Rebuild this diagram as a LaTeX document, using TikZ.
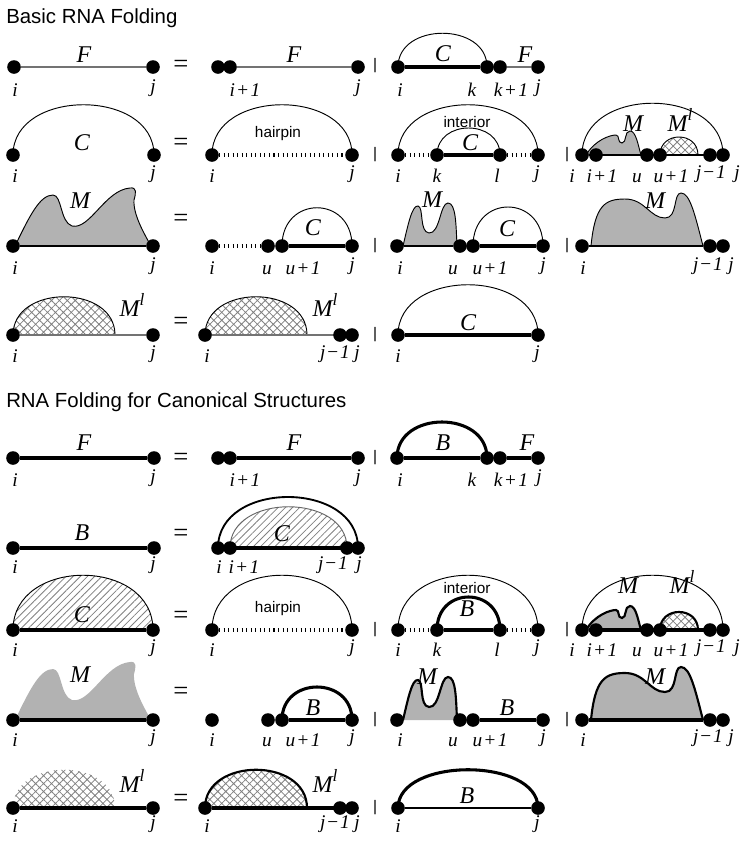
\documentclass[tikz,border=0pt]{standalone}
\usepackage{fontspec}
\setmainfont{Liberation Serif}
\newfontfamily\headfont{Liberation Sans}
\usetikzlibrary{patterns.meta,backgrounds}

\newcommand\ifont{\fontsize{14.5}{16}\selectfont\itshape}
\newcommand\Ifont{\fontsize{18}{20}\selectfont\itshape}
\newcommand\plusone[1]{#1\hspace{.12em}\textup{+}\hspace{.12em}1}
\newcommand\minusone[1]{#1\hspace{.1em}\textup{−}\hspace{.1em}1}
\newcommand\Ml{M\raisebox{.42em}{\fontsize{13}{14}\selectfont l}}

% multiloop outlines, relative to the left base
\newcommand\waveM{(2,0) .. controls (17,-31) and (27,-51) .. (40,-51) .. controls (49,-51) and (47,-24) .. (59,-20) .. controls (77,-16) and (92,-56) .. (117,-58) .. controls (124,-59) and (123,-53) .. (121,-46) .. controls (120,-31) and (132,-11) .. (138,0)}
\newcommand\twinM{(6,0) .. controls (11,-21) and (15,-41) .. (21,-40) .. controls (27,-39) and (22,-14) .. (32,-13) .. controls (43,-12) and (43,-43) .. (51,-43) .. controls (59,-43) and (59,-21) .. (60,0)}
\newcommand\humpM{(9,0) .. controls (13,-41) and (23,-47) .. (43,-47) .. controls (63,-47) and (68,-28) .. (83,-28) .. controls (96,-28) and (91,-53) .. (99,-53) .. controls (108,-53) and (113,-31) .. (121,0)}
\newcommand\smallM{(4,0) .. controls (13,-15) and (28,-20) .. (34,-20) .. controls (38,-20) and (35,-12) .. (40,-12) .. controls (45,-12) and (42,-24) .. (48,-24) .. controls (54,-24) and (56,-10) .. (59,0)}

\tikzset{
  nuc/.style={circle, fill=black, inner sep=0pt, minimum size=10.2pt},
  idx/.style={font=\ifont, anchor=south, inner sep=0pt},
  sym/.style={font=\Ifont, anchor=base, inner sep=0pt},
  eqs/.style={font=\fontsize{20}{22}\selectfont},
  alt/.style={font=\headfont\fontsize{11.5}{13}\selectfont},
  loopname/.style={font=\headfont\fontsize{11.5}{13}\selectfont, anchor=base, inner sep=0pt},
  head/.style={font=\headfont\fontsize{15.3}{18}\selectfont, anchor=base west, inner sep=0pt},
  fline/.style={line width=1.1pt, black!55},
  tline/.style={line width=0.9pt},
  bline/.style={line width=2.4pt},
  mline/.style={line width=1.6pt},
  carc/.style={line width=0.7pt},
  barc/.style={line width=2.3pt},
  loopline/.style={line width=2.4pt, dash pattern=on 0.8pt off 2.6pt},
  mfill/.style={fill=black!30},
  mlhatch/.style={pattern={Hatch[angle=45,distance=4.2pt,line width=0.6pt]}, pattern color=black!50},
  chatch/.style={pattern={Lines[angle=45,distance=3.8pt,line width=0.6pt]}, pattern color=black!50},
}

\begin{document}
\begin{tikzpicture}[x=0.75pt, y=-0.75pt]
\useasboundingbox (0,0) rectangle (740,843);

\node[head] (basic) at (6,23) {Basic RNA Folding};
\node[head] (canon) at (6,407) {RNA Folding for Canonical Structures};

% F = ...
\node[nuc] (1ai) at (14,67) {};
\node[nuc] (1aj) at (153,67) {};
\node[sym] (1aF) at (84,62) {F};
\node[idx] (1ali) at (15,97) {i};
\node[idx] (1alj) at (153,97) {j};
\node[eqs] (1eq) at (181,66) {=};
\node[nuc] (1bi) at (218,67) {};
\node[nuc] (1bi1) at (230,67) {};
\node[nuc] (1bj) at (358,67) {};
\node[sym] (1bF) at (294,62) {F};
\node[idx] (1bli1) at (245,97) {\plusone{i}};
\node[idx] (1blj) at (358,97) {j};
\node[alt] (1or) at (375,66) {|};
\node[nuc] (1ci) at (398,67) {};
\node[nuc] (1ck) at (487,67) {};
\node[nuc] (1ck1) at (500,67) {};
\node[nuc] (1cj) at (538,67) {};
\node[sym] (1cC) at (443,61) {C};
\node[sym] (1cF) at (525,62) {F};
\node[idx] (1cli) at (400,97) {i};
\node[idx] (1clk) at (472,97) {k};
\node[idx] (1clk1) at (511,97) {\plusone{k}};
\node[idx] (1clj) at (538,97) {j};

% C = ...
\node[nuc] (2ai) at (13,155) {};
\node[nuc] (2aj) at (154,155) {};
\node[sym] (2aC) at (82,150) {C};
\node[idx] (2ali) at (15,183) {i};
\node[idx] (2alj) at (153,183) {j};
\node[eqs] (2eq) at (181,144) {=};
\node[nuc] (2bi) at (212,155) {};
\node[nuc] (2bj) at (352,155) {};
\node[loopname] (2bh) at (278,137) {hairpin};
\node[idx] (2bli) at (212,183) {i};
\node[idx] (2blj) at (352,183) {j};
\node[alt] (2or) at (375,155) {|};
\node[nuc] (2ci) at (398,155) {};
\node[nuc] (2ck) at (437,155) {};
\node[nuc] (2cl) at (500,155) {};
\node[nuc] (2cj) at (538,155) {};
\node[loopname] (2cint) at (467,127) {interior};
\node[sym] (2cC) at (470,150) {C};
\node[idx] (2cli) at (398,183) {i};
\node[idx] (2clk) at (437,183) {k};
\node[idx] (2cll) at (497,183) {l};
\node[idx] (2clj) at (537,183) {j};
\node[alt] (2or2) at (567,155) {|};
\node[nuc] (2di) at (582,155) {};
\node[nuc] (2di1) at (596,155) {};
\node[nuc] (2du) at (647,155) {};
\node[nuc] (2du1) at (660,155) {};
\node[nuc] (2djm) at (710,155) {};
\node[nuc] (2dj) at (723,155) {};
\coordinate (2dme) at (698,155);
\node[sym] (2dM) at (633,131) {M};
\node[sym] (2dMl) at (680,131) {\Ml};
\node[idx] (2dli) at (572,183) {i};
\node[idx] (2dli1) at (602,183) {\plusone{i}};
\node[idx] (2dlu) at (637,183) {u};
\node[idx] (2dlu1) at (671,183) {\plusone{u}};
\node[idx] (2dljm) at (711,183) {\minusone{j}};
\node[idx] (2dlj) at (737,183) {j};

% M = ...
\node[nuc] (3ai) at (13,246) {};
\node[nuc] (3aj) at (153,246) {};
\node[sym] (3aM) at (80,208) {M};
\node[idx] (3ali) at (15,275) {i};
\node[idx] (3alj) at (153,275) {j};
\node[eqs] (3eq) at (181,220) {=};
\node[nuc] (3bi) at (212,246) {};
\node[nuc] (3bu) at (268,246) {};
\node[nuc] (3bu1) at (282,246) {};
\node[nuc] (3bj) at (352,246) {};
\node[sym] (3bC) at (313,235) {C};
\node[idx] (3bli) at (212,275) {i};
\node[idx] (3blu) at (267,275) {u};
\node[idx] (3blu1) at (303,275) {\plusone{u}};
\node[idx] (3blj) at (352,275) {j};
\node[alt] (3or) at (375,246) {|};
\node[nuc] (3ci) at (397,246) {};
\node[nuc] (3cu) at (460,246) {};
\node[nuc] (3cu1) at (473,246) {};
\node[nuc] (3cj) at (543,246) {};
\node[sym] (3cM) at (432,207) {M};
\node[sym] (3cC) at (507,236) {C};
\node[idx] (3cli) at (400,275) {i};
\node[idx] (3clu) at (453,275) {u};
\node[idx] (3clu1) at (490,275) {\plusone{u}};
\node[idx] (3clj) at (543,275) {j};
\node[alt] (3or2) at (567,246) {|};
\node[nuc] (3di) at (582,246) {};
\node[nuc] (3djm) at (710,246) {};
\node[nuc] (3dj) at (723,246) {};
\node[sym] (3dM) at (655,208) {M};
\node[idx] (3dli) at (583,275) {i};
\node[idx] (3dljm) at (708,275) {\minusone{j}};
\node[idx] (3dlj) at (731,275) {j};

% M1 = ...
\node[nuc] (4ai) at (13,335) {};
\node[nuc] (4aj) at (153,335) {};
\coordinate (4ae) at (115,335);
\node[sym] (4aMl) at (132,316) {\Ml};
\node[idx] (4ali) at (15,363) {i};
\node[idx] (4alj) at (153,363) {j};
\node[eqs] (4eq) at (181,323) {=};
\node[nuc] (4bi) at (205,335) {};
\node[nuc] (4bjm) at (340,335) {};
\node[nuc] (4bj) at (352,335) {};
\coordinate (4be) at (307,335);
\node[sym] (4bMl) at (325,316) {\Ml};
\node[idx] (4bli) at (207,363) {i};
\node[idx] (4bljm) at (335,363) {\minusone{j}};
\node[idx] (4blj) at (357,363) {j};
\node[alt] (4or) at (375,335) {|};
\node[nuc] (4ci) at (398,335) {};
\node[nuc] (4cj) at (538,335) {};
\node[sym] (4cC) at (468,330) {C};
\node[idx] (4cli) at (398,363) {i};
\node[idx] (4clj) at (537,363) {j};

% canonical F = ...
\node[nuc] (5ai) at (13,458) {};
\node[nuc] (5aj) at (154,458) {};
\node[sym] (5aF) at (84,450) {F};
\node[idx] (5ali) at (15,487) {i};
\node[idx] (5alj) at (153,487) {j};
\node[eqs] (5eq) at (181,459) {=};
\node[nuc] (5bi) at (218,458) {};
\node[nuc] (5bi1) at (230,458) {};
\node[nuc] (5bj) at (358,458) {};
\node[sym] (5bF) at (294,450) {F};
\node[idx] (5bli1) at (245,487) {\plusone{i}};
\node[idx] (5blj) at (358,487) {j};
\node[alt] (5or) at (375,458) {|};
\node[nuc] (5ci) at (397,458) {};
\node[nuc] (5ck) at (487,458) {};
\node[nuc] (5ck1) at (500,458) {};
\node[nuc] (5cj) at (538,458) {};
\node[sym] (5cB) at (443,450) {B};
\node[sym] (5cF) at (527,450) {F};
\node[idx] (5cli) at (400,487) {i};
\node[idx] (5clk) at (472,487) {k};
\node[idx] (5clk1) at (511,487) {\plusone{k}};
\node[idx] (5clj) at (539,487) {j};

% B = ...
\node[nuc] (6ai) at (13,548) {};
\node[nuc] (6aj) at (154,548) {};
\node[sym] (6aB) at (82,540) {B};
\node[idx] (6ali) at (15,574) {i};
\node[idx] (6alj) at (153,574) {j};
\node[eqs] (6eq) at (181,535) {=};
\node[nuc] (6bi) at (218,548) {};
\node[nuc] (6bi1) at (230,548) {};
\node[nuc] (6bjm) at (347,548) {};
\node[nuc] (6bj) at (358,548) {};
\node[sym] (6bC) at (282,541) {C};
\node[idx] (6bli) at (219,574) {i};
\node[idx] (6bli1) at (244,574) {\plusone{i}};
\node[idx] (6bljm) at (333,574) {\minusone{j}};
\node[idx] (6blj) at (359,574) {j};

% canonical C = ...
\node[nuc] (7ai) at (13,630) {};
\node[nuc] (7aj) at (153,630) {};
\node[sym] (7aC) at (82,622) {C};
\node[idx] (7ali) at (15,657) {i};
\node[idx] (7alj) at (153,657) {j};
\node[eqs] (7eq) at (181,617) {=};
\node[nuc] (7bi) at (212,630) {};
\node[nuc] (7bj) at (352,630) {};
\node[loopname] (7bh) at (278,612) {hairpin};
\node[idx] (7bli) at (212,657) {i};
\node[idx] (7blj) at (352,657) {j};
\node[alt] (7or) at (375,630) {|};
\node[nuc] (7ci) at (398,630) {};
\node[nuc] (7ck) at (437,630) {};
\node[nuc] (7cl) at (500,630) {};
\node[nuc] (7cj) at (538,630) {};
\node[loopname] (7cint) at (467,593) {interior};
\node[sym] (7cB) at (467,616) {B};
\node[idx] (7cli) at (398,657) {i};
\node[idx] (7clk) at (437,657) {k};
\node[idx] (7cll) at (497,657) {l};
\node[idx] (7clj) at (537,657) {j};
\node[alt] (7or2) at (567,630) {|};
\node[nuc] (7di) at (582,630) {};
\node[nuc] (7di1) at (596,630) {};
\node[nuc] (7du) at (647,630) {};
\node[nuc] (7du1) at (660,630) {};
\node[nuc] (7djm) at (710,630) {};
\node[nuc] (7dj) at (723,630) {};
\coordinate (7dme) at (698,630);
\node[sym] (7dM) at (628,593) {M};
\node[sym] (7dMl) at (682,593) {\Ml};
\node[idx] (7dli) at (572,657) {i};
\node[idx] (7dli1) at (602,657) {\plusone{i}};
\node[idx] (7dlu) at (637,657) {u};
\node[idx] (7dlu1) at (671,657) {\plusone{u}};
\node[idx] (7dljm) at (711,657) {\minusone{j}};
\node[idx] (7dlj) at (737,657) {j};

% canonical M = ...
\node[nuc] (8ai) at (13,720) {};
\node[nuc] (8aj) at (153,720) {};
\node[sym] (8aM) at (80,682) {M};
\node[idx] (8ali) at (15,747) {i};
\node[idx] (8alj) at (153,747) {j};
\node[eqs] (8eq) at (181,693) {=};
\node[nuc] (8bi) at (212,720) {};
\node[nuc] (8bu) at (268,720) {};
\node[nuc] (8bu1) at (282,720) {};
\node[nuc] (8bj) at (352,720) {};
\node[sym] (8bB) at (313,715) {B};
\node[idx] (8bli) at (212,747) {i};
\node[idx] (8blu) at (267,747) {u};
\node[idx] (8blu1) at (303,747) {\plusone{u}};
\node[idx] (8blj) at (352,747) {j};
\node[alt] (8or) at (375,720) {|};
\node[nuc] (8ci) at (397,720) {};
\node[nuc] (8cu) at (460,720) {};
\node[nuc] (8cu1) at (473,720) {};
\node[nuc] (8cj) at (543,720) {};
\node[sym] (8cM) at (427,684) {M};
\node[sym] (8cB) at (507,715) {B};
\node[idx] (8cli) at (400,747) {i};
\node[idx] (8clu) at (453,747) {u};
\node[idx] (8clu1) at (490,747) {\plusone{u}};
\node[idx] (8clj) at (543,747) {j};
\node[alt] (8or2) at (567,720) {|};
\node[nuc] (8di) at (582,720) {};
\node[nuc] (8djm) at (710,720) {};
\node[nuc] (8dj) at (723,720) {};
\node[sym] (8dM) at (655,684) {M};
\node[idx] (8dli) at (583,747) {i};
\node[idx] (8dljm) at (708,747) {\minusone{j}};
\node[idx] (8dlj) at (731,747) {j};

% canonical M1 = ...
\node[nuc] (9ai) at (13,808) {};
\node[nuc] (9aj) at (153,808) {};
\coordinate (9ae) at (115,808);
\node[sym] (9aMl) at (132,792) {\Ml};
\node[idx] (9ali) at (15,833) {i};
\node[idx] (9alj) at (153,833) {j};
\node[eqs] (9eq) at (181,800) {=};
\node[nuc] (9bi) at (205,808) {};
\node[nuc] (9bjm) at (340,808) {};
\node[nuc] (9bj) at (352,808) {};
\coordinate (9be) at (307,808);
\node[sym] (9bMl) at (325,792) {\Ml};
\node[idx] (9bli) at (207,833) {i};
\node[idx] (9bljm) at (335,833) {\minusone{j}};
\node[idx] (9blj) at (357,833) {j};
\node[alt] (9or) at (375,808) {|};
\node[nuc] (9ci) at (398,808) {};
\node[nuc] (9cj) at (538,808) {};
\node[sym] (9cB) at (467,803) {B};
\node[idx] (9cli) at (398,833) {i};
\node[idx] (9clj) at (537,833) {j};

\begin{scope}[on background layer]
% basic
\path [fline] (1ai) edge (1aj);
\path [fline] (1bi1) edge (1bj);
\path [bline] (1ci) edge (1ck);
\path [fline] (1ck1) edge (1cj);
\draw [carc] (1ci.center) .. controls +(0,-45) and +(0,-45) .. (1ck.center);

\draw [carc] (2ai.center) .. controls +(0,-67) and +(0,-67) .. (2aj.center);
\draw [carc] (2bi.center) .. controls +(0,-67) and +(0,-67) .. (2bj.center);
\path [loopline] (2bi) edge (2bj);
\draw [carc] (2ci.center) .. controls +(0,-67) and +(0,-67) .. (2cj.center);
\draw [carc] (2ck.center) .. controls +(0,-36) and +(0,-36) .. (2cl.center);
\path [bline] (2ck) edge (2cl);
\path [loopline] (2ci) edge (2ck) (2cl) edge (2cj);
\draw [carc] (2di.center) .. controls +(0,-69) and +(0,-69) .. (2dj.center);
\fill [mfill, shift={(582,155)}] \smallM -- cycle;
\draw [carc, shift={(582,155)}] \smallM;
\fill [mlhatch] (2du1.center) .. controls +(0,-24) and +(0,-24) .. (2dme) -- cycle;
\draw [carc] (2du1.center) .. controls +(0,-24) and +(0,-24) .. (2dme);
\path [tline] (2di) edge (2dj);

\fill [mfill, shift={(13,246)}] \waveM -- cycle;
\draw [carc, shift={(13,246)}] \waveM;
\path [tline] (3ai) edge (3aj);
\path [loopline] (3bi) edge (3bu);
\draw [carc] (3bu1.center) .. controls +(0,-51) and +(0,-51) .. (3bj.center);
\path [bline] (3bu1) edge (3bj);
\fill [mfill, shift={(397,246)}] \twinM -- cycle;
\draw [carc, shift={(397,246)}] \twinM;
\path [tline] (3ci) edge (3cu);
\draw [carc] (3cu1.center) .. controls +(0,-52) and +(0,-52) .. (3cj.center);
\path [bline] (3cu1) edge (3cj);
\fill [mfill, shift={(582,246)}] \humpM -- cycle;
\draw [carc, shift={(582,246)}] \humpM;
\path [tline] (3di) edge (3djm);

\fill [mlhatch] (4ai.center) .. controls +(0,-51) and +(0,-51) .. (4ae) -- cycle;
\draw [carc] (4ai.center) .. controls +(0,-51) and +(0,-51) .. (4ae);
\path [fline] (4ai) edge (4aj);
\fill [mlhatch] (4bi.center) .. controls +(0,-51) and +(0,-51) .. (4be) -- cycle;
\draw [carc] (4bi.center) .. controls +(0,-51) and +(0,-51) .. (4be);
\path [fline] (4bi) edge (4bj);
\draw [carc] (4ci.center) .. controls +(0,-67) and +(0,-67) .. (4cj.center);
\path [bline] (4ci) edge (4cj);

% canonical
\path [bline] (5ai) edge (5aj);
\path [bline] (5bi1) edge (5bj);
\draw [barc] (5ci.center) .. controls +(0,-48) and +(0,-48) .. (5ck.center);
\path [bline] (5ci) edge (5ck) (5ck1) edge (5cj);

\path [bline] (6ai) edge (6aj);
\fill [chatch] (6bi1.center) .. controls +(0,-55) and +(0,-55) .. (6bjm.center) -- cycle;
\draw [carc, black!60] (6bi1.center) .. controls +(0,-55) and +(0,-55) .. (6bjm.center);
\draw [line width=1.4pt] (6bi.center) .. controls +(0,-68) and +(0,-68) .. (6bj.center);
\path [bline] (6bi) edge (6bj);

\fill [chatch] (7ai.center) .. controls +(0,-73) and +(0,-73) .. (7aj.center) -- cycle;
\draw [carc] (7ai.center) .. controls +(0,-73) and +(0,-73) .. (7aj.center);
\path [bline] (7ai) edge (7aj);
\draw [carc] (7bi.center) .. controls +(0,-73) and +(0,-73) .. (7bj.center);
\path [loopline] (7bi) edge (7bj);
\draw [carc] (7ci.center) .. controls +(0,-73) and +(0,-73) .. (7cj.center);
\draw [barc] (7ck.center) .. controls +(0,-44) and +(0,-44) .. (7cl.center);
\path [bline] (7ck) edge (7cl);
\path [loopline] (7ci) edge (7ck) (7cl) edge (7cj);
\draw [carc] (7di.center) .. controls +(0,-73) and +(0,-73) .. (7dj.center);
\fill [mfill, shift={(582,630)}] \smallM -- cycle;
\draw [mline, shift={(582,630)}] \smallM;
\fill [mlhatch] (7du1.center) .. controls +(0,-24) and +(0,-24) .. (7dme) -- cycle;
\draw [mline] (7du1.center) .. controls +(0,-24) and +(0,-24) .. (7dme);
\path [bline] (7di) edge (7dj);

\fill [mfill, shift={(13,720)}] \waveM -- cycle;
\path [bline] (8ai) edge (8aj);
\draw [barc] (8bu1.center) .. controls +(0,-44) and +(0,-44) .. (8bj.center);
\path [bline] (8bu1) edge (8bj);
\fill [mfill, shift={(397,720)}] \twinM -- cycle;
\draw [mline, shift={(397,720)}] \twinM;
\path [bline] (8cu1) edge (8cj);
\fill [mfill, shift={(582,720)}] \humpM -- cycle;
\draw [mline, shift={(582,720)}] \humpM;
\path [bline] (8di) edge (8djm);

\fill [mlhatch] (9ai.center) .. controls +(0,-51) and +(0,-51) .. (9ae) -- cycle;
\path [bline] (9ai) edge (9aj);
\fill [mlhatch] (9bi.center) .. controls +(0,-51) and +(0,-51) .. (9be) -- cycle;
\draw [mline] (9bi.center) .. controls +(0,-51) and +(0,-51) .. (9be);
\path [bline] (9bi) edge (9bj);
\draw [barc] (9ci.center) .. controls +(0,-51) and +(0,-51) .. (9cj.center);
\path [line width=1.6pt] (9ci) edge (9cj);
\end{scope}
\end{tikzpicture}
\end{document}
